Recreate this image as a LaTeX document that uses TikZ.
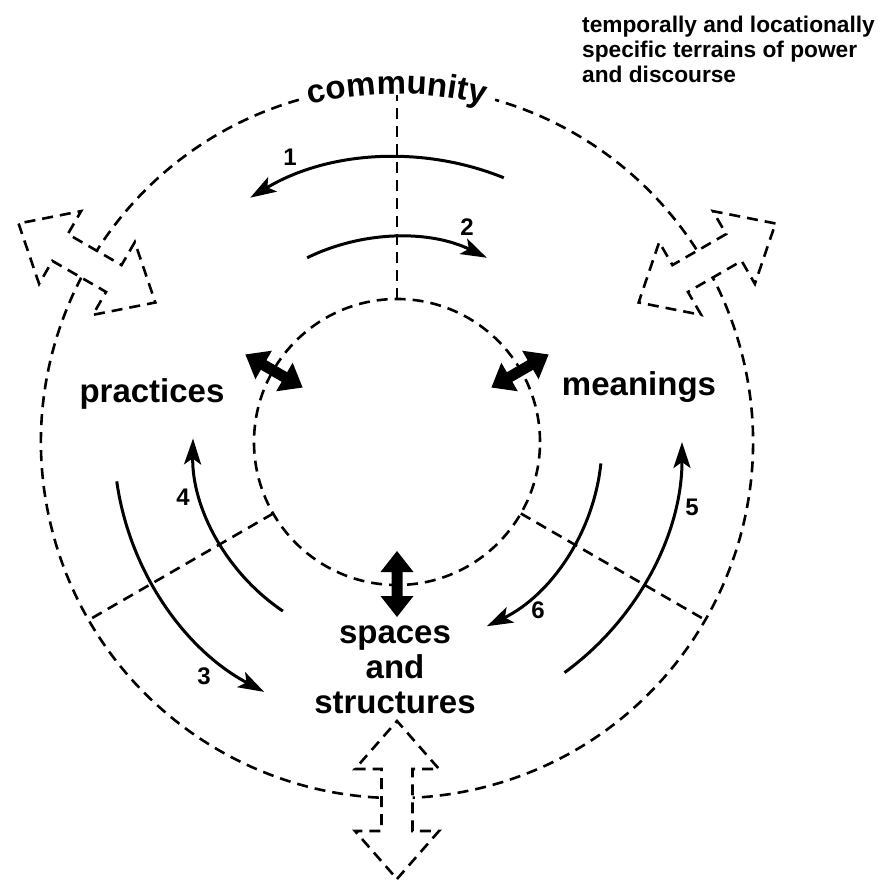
\documentclass[tikz,border=0pt]{standalone}
\usepackage{fontspec}
\setmainfont{Liberation Sans}
\usetikzlibrary{arrows.meta,decorations.text}
\begin{document}
\begin{tikzpicture}[x=1pt,y=1pt,
  dline/.style={line width=2.6pt, dash pattern=on 11pt off 7pt},
  sarc/.style={line width=3pt, -{Stealth[length=26pt,width=17pt,inset=6pt]}},
  lbl/.style={font=\fontsize{33}{35}\selectfont\bfseries, inner sep=0pt},
  num/.style={font=\fontsize{24}{24}\selectfont\bfseries, inner sep=0pt},
  hollow/.style={dline, fill=white, line join=miter},
  solidar/.style={fill=black}
]
\useasboundingbox (-397,-440) rectangle (493,442);
\fill[white] (-397,-440) rectangle (493,442);

% circles and dividers
\coordinate (ctr) at (0,0);
\draw[dline] (106:356) arc[start angle=106, end angle=434, radius=356];
\draw[dline] (ctr) circle[radius=143];
\coordinate (d1a) at (90:143);  \coordinate (d1b) at (90:347);
\coordinate (d2a) at (210:143); \coordinate (d2b) at (210:356);
\coordinate (d3a) at (330:143); \coordinate (d3b) at (330:356);
\draw[dline] (d1a) -- (d1b);
\draw[dline] (d2a) -- (d2b);
\draw[dline] (d3a) -- (d3b);

% hollow dashed double arrows on the outer circle
\foreach \a in {150,30,270}{
 \begin{scope}[shift={(\a:358)}, rotate=\a]
  \filldraw[hollow] (79,0) -- (31,42) -- (31,15.5) -- (-31,15.5) -- (-31,42) -- (-79,0) -- (-31,-42) -- (-31,-15.5) -- (31,-15.5) -- (31,-42) -- cycle;
 \end{scope}}

% solid double arrows on the inner circle
\foreach \a in {150,30,270}{
 \begin{scope}[shift={(\a:142)}, rotate=\a]
  \fill[solidar] (33,0) -- (12,16.5) -- (12,5.5) -- (-12,5.5) -- (-12,16.5) -- (-33,0) -- (-12,-16.5) -- (-12,-5.5) -- (12,-5.5) -- (12,-16.5) -- cycle;
 \end{scope}}

% curved arrows
\draw[sarc] (68:285) arc[start angle=68, end angle=121, radius=285];
\draw[sarc] (116:205) arc[start angle=116, end angle=64, radius=205];
\draw[sarc] (188:283) arc[start angle=188, end angle=242, radius=283];
\draw[sarc] (236:204) arc[start angle=236, end angle=179, radius=204];
\draw[sarc] (306:285) arc[start angle=306, end angle=360, radius=285];
\draw[sarc] (354:205) arc[start angle=354, end angle=296, radius=205];

% community along the arc
\path[decorate, decoration={text along path, text align=center,
  text format delimiters={|}{|},
  text={|\fontsize{33}{33}\selectfont\bfseries|community}}]
  (106:348) arc[start angle=106, end angle=74, radius=348];

% labels
\node[lbl, anchor=base] (prac) at (-245,39) {practices};
\node[lbl, anchor=base] (mean) at (242,46) {meanings};
\node[lbl, anchor=base, align=center] (spac) at (-2,-271) {spaces\\and\\structures};
\node[font=\fontsize{22.7}{25}\selectfont\bfseries, align=left, anchor=base west, inner sep=0pt] (terr) at (185,359)
  {temporally and locationally\\specific terrains of power\\and discourse};

% numbers
\node[num] (n1) at (-107,285) {1};
\node[num] (n2) at (70,215) {2};
\node[num] (n3) at (-193,-234) {3};
\node[num] (n4) at (-214,-55) {4};
\node[num] (n5) at (295,-65) {5};
\node[num] (n6) at (141,-168) {6};
\end{tikzpicture}
\end{document}
